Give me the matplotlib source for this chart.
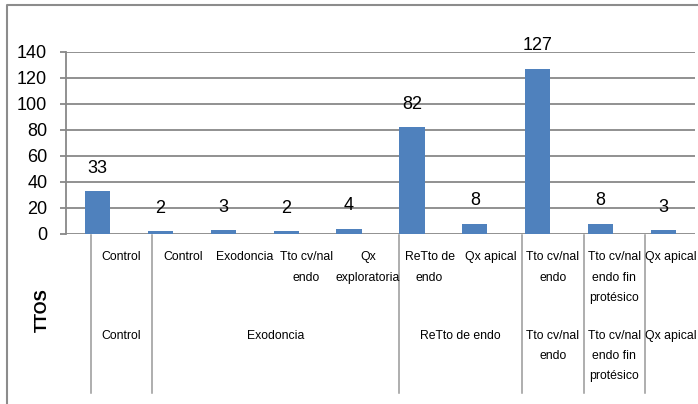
import matplotlib
matplotlib.use('Agg')
import matplotlib.pyplot as plt
from matplotlib.lines import Line2D

# datos del grafico
values = [33, 2, 3, 2, 4, 82, 8, 127, 8, 3]
sub_labels = ['Control', 'Control', 'Exodoncia', 'Tto cv/nal\nendo', 'Qx\nexploratoria',
              'ReTto de\nendo', 'Qx apical', 'Tto cv/nal\nendo', 'Tto cv/nal\nendo fin\nprotésico',
              'Qx apical']
group_labels = ['Control', 'Exodoncia', 'ReTto de endo', 'Tto cv/nal\nendo',
                'Tto cv/nal\nendo fin\nprotésico', 'Qx apical']
group_sizes = [1, 4, 2, 1, 1, 1]
y_ticks = [0, 20, 40, 60, 80, 100, 120, 140]

W, H = 698, 404
BLUE = '#4F81BD'
GRID = '#888888'
LABEL_FONT = 'Liberation Sans'

fig = plt.figure(figsize=(W / 100, H / 100), dpi=100)
fig.patch.set_facecolor('white')


def fy(py):
    return 1 - py / H


def fx(px):
    return px / W


ax = fig.add_axes([fx(66), fy(234), fx(695) - fx(66), fy(52) - fy(234)])
x = list(range(len(values)))
ax.bar(x, values, width=0.4, color=BLUE, zorder=3)
ax.set_xlim(-0.5, len(values) - 0.5)
ax.set_ylim(0, 140)
ax.set_yticks(y_ticks)
ax.set_yticklabels([str(t) for t in y_ticks], fontsize=13, family='Liberation Sans')
ax.yaxis.grid(True, color=GRID, linewidth=1.3, zorder=0)
ax.set_xticks([])
for s in ['top', 'right', 'bottom']:
    ax.spines[s].set_visible(False)
ax.spines['left'].set_color(GRID)
ax.spines['left'].set_linewidth(1.3)
ax.tick_params(axis='y', length=4.5, width=1.3, color=GRID, pad=9)

for xi, v in zip(x, values):
    ax.annotate(str(v), (xi, v), xytext=(0, 16.5), textcoords='offset points',
                ha='center', va='center', fontsize=13, family='Liberation Sans')

# tabla de etiquetas (desplazada como en el original)
cell0, cellw = 90.7, 61.6
bounds = [cell0 + cellw * k for k in range(len(values) + 1)]
max_cx = W - 27  # que la ultima etiqueta no se corte


# etiquetas de nivel 1
for k, lab in enumerate(sub_labels):
    cx = min((bounds[k] + bounds[k + 1]) / 2, max_cx)
    fig.text(fx(cx), fy(251), lab, ha='center', va='top', fontsize=8.8,
             family=LABEL_FONT, linespacing=1.95)

# separadores y etiquetas de grupo
start = 0
seps = [0]
for lab, n in zip(group_labels, group_sizes):
    cx = min((bounds[start] + bounds[start + n]) / 2, max_cx)
    fig.text(fx(cx), fy(330), lab, ha='center', va='top', fontsize=8.8,
             family=LABEL_FONT, linespacing=1.9)
    start += n
    seps.append(start)

for k in seps:
    if bounds[k] < W:
        fig.add_artist(Line2D([fx(bounds[k])] * 2, [fy(235), fy(393)],
                              color='#999999', linewidth=1.1))

fig.text(fx(42), fy(310), 'TTOS', rotation=90, ha='center', va='center',
         fontsize=12, fontweight='bold', family='Liberation Sans')

# borde del area del grafico
fig.add_artist(Line2D([fx(7), fx(7), fx(W)], [fy(H), fy(5), fy(5)],
                      color='#8C8C8C', linewidth=1.5))

fig.savefig('out.png', dpi=100)
